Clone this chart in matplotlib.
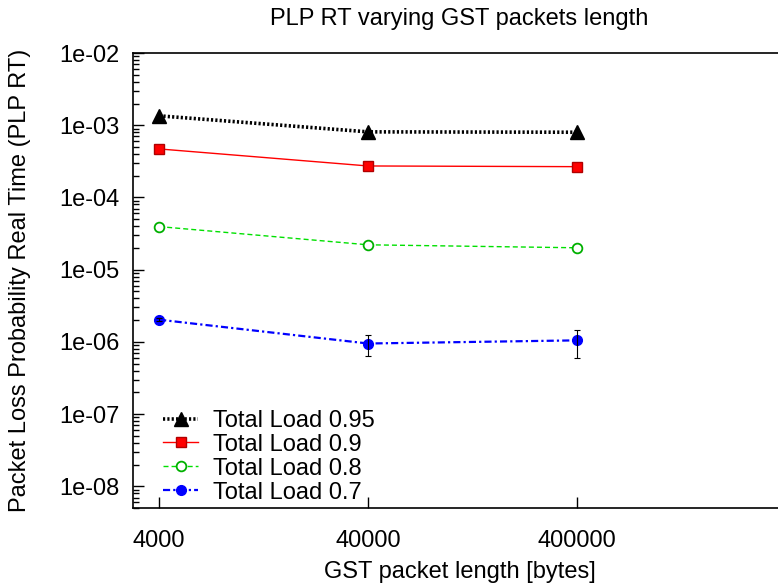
import math
import matplotlib
matplotlib.use("Agg")
import matplotlib.pyplot as plt
from matplotlib.ticker import LogLocator, FixedLocator, NullFormatter, FuncFormatter

plt.rcParams['font.family'] = ['Liberation Sans', 'DejaVu Sans']

# data
lengths = [4000, 40000, 400000]
tick_labels = ['4000', '40000', '400000']

load_095 = [1.35e-3, 8.1e-4, 8.0e-4]
load_090 = [4.7e-4, 2.73e-4, 2.67e-4]
load_080 = [3.95e-5, 2.21e-5, 2.01e-5]
load_070 = [2.03e-6, 9.5e-7, 1.05e-6]

err_070_lo = [0.1e-6, 0.31e-6, 0.46e-6]
err_070_hi = [0.1e-6, 0.31e-6, 0.43e-6]

fig = plt.figure(figsize=(7.78, 5.86), dpi=100)
ax = fig.add_axes([0.171, 0.133, 0.839, 0.7765])

ax.plot(lengths, load_095, color='black', linestyle=(0, (0.6, 0.6)), lw=2.6,
        marker='^', markersize=10, label='Total Load 0.95')
ax.plot(lengths, load_090, color='red', linestyle='-', lw=1,
        marker='s', markersize=7, markerfacecolor='red', markeredgecolor='#b00000',
        label='Total Load 0.9')
ax.plot(lengths, load_080, color='#00e000', linestyle=(0, (3.6, 2.2)), lw=1,
        marker='o', markersize=7, markerfacecolor='white', markeredgecolor='#00b000',
        markeredgewidth=1.3, label='Total Load 0.8')
ax.plot(lengths, load_070, color='blue', linestyle=(0, (3.2, 1.4, 1, 1.4)), lw=1.6,
        marker='o', markersize=7, label='Total Load 0.7')
ax.errorbar(lengths, load_070, yerr=[err_070_lo, err_070_hi], fmt='none',
            ecolor='black', elinewidth=0.8, capsize=2, capthick=0.8,
            linestyle=(0, (3, 2)))

ax.set_xscale('log')
ax.set_yscale('log')
ax.set_xlim(3000, 4e6)
ax.set_ylim(5e-9, 1e-2)

ax.xaxis.set_major_locator(FixedLocator(lengths))
ax.set_xticklabels(tick_labels)
ax.xaxis.set_minor_locator(FixedLocator([]))
ax.yaxis.set_major_locator(LogLocator(base=10, numticks=20))
ax.yaxis.set_minor_locator(LogLocator(base=10, subs=range(2, 10), numticks=20))
ax.yaxis.set_minor_formatter(NullFormatter())
ax.yaxis.set_major_formatter(FuncFormatter(lambda v, p: '1e-%02d' % round(-math.log10(v))))

ax.tick_params(axis='both', which='major', direction='in', length=8, width=1,
               labelsize=17)
ax.tick_params(axis='y', which='major', pad=10)
ax.tick_params(axis='x', which='major', pad=16)
ax.tick_params(axis='both', which='minor', direction='in', length=4, width=1)
ax.tick_params(top=False, right=False, which='both')
ax.spines['right'].set_visible(False)
for s in ['left', 'bottom', 'top']:
    ax.spines[s].set_linewidth(1.2)

ax.set_title('PLP RT varying GST packets length', fontsize=17, pad=20)
ax.set_xlabel('GST packet length [bytes]', fontsize=17, labelpad=6)
ax.set_ylabel('Packet Loss Probability Real Time (PLP RT)', fontsize=17, labelpad=20)

ax.legend(loc='lower left', bbox_to_anchor=(0.046, 0.01), frameon=False,
          fontsize=17, handlelength=1.5, labelspacing=0.08, borderpad=0,
          borderaxespad=0, handletextpad=0.6)

fig.savefig('out.png', dpi=100)
